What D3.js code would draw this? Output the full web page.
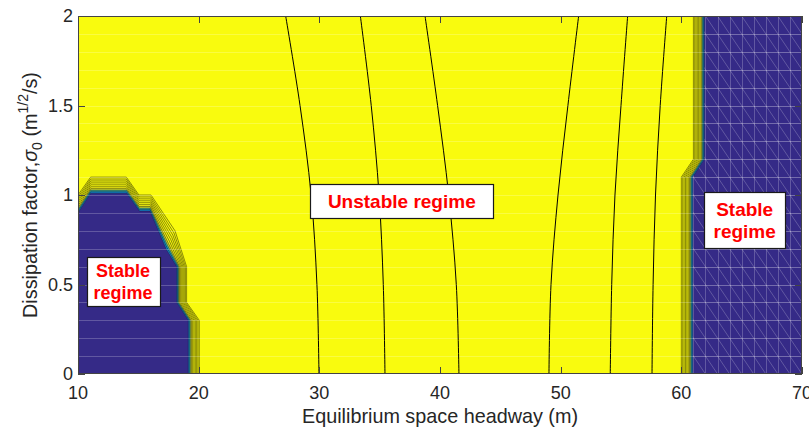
<!DOCTYPE html>
<html>
<head>
<meta charset="utf-8">
<script src="https://cdn.jsdelivr.net/npm/d3@7"></script>
<style>
  html, body { margin: 0; padding: 0; background: #fff; }
  svg { display: block; font-family: Arial, "Liberation Sans", Helvetica, sans-serif; }
</style>
</head>
<body>
<svg id="chart" width="809" height="428"></svg>
<script>
// ---------- data ----------
const xTicks = [10, 20, 30, 40, 50, 60, 70];
const yTicks = [0, 0.5, 1, 1.5, 2];
const yTickLabels = ["0", "0.5", "1", "1.5", "2"];

// sigma positions at which contour-line headways are read
const sigmaSamples = [0, 0.5, 1.0, 1.5, 2.0];
const contourA = [29.97, 29.80, 29.32, 28.40, 27.21];
const contourB = [35.44, 35.30, 34.95, 34.30, 33.40];
const contourC = [41.57, 41.35, 40.72, 39.80, 38.76];
const contourD = [49.03, 49.20, 49.78, 50.60, 51.49];
const contourE = [54.11, 54.23, 54.50, 55.00, 55.55];
const contourF = [57.57, 57.66, 57.86, 58.25, 58.79];

// left stable region: inner (fully stable) and outer (unstable) edges [headway, sigma]
const leftInner = [[10, 0.90], [11.05, 1.01], [14.03, 1.01], [15.1, 0.91], [15.97, 0.91], [17.29, 0.70], [18.18, 0.60], [18.18, 0.40], [19.14, 0.30], [19.14, 0]];
const leftOuter = [[10, 1.00], [11.05, 1.10], [14.0, 1.10], [15.05, 1.00], [16.05, 1.00], [18.04, 0.80], [19.0, 0.60], [19.0, 0.40], [20.05, 0.30], [20.05, 0]];
// right stable region edges (top to bottom)
const rightInner = [[61.9, 2.0], [61.9, 1.2], [60.95, 1.1], [60.95, 0]];
const rightOuter = [[61.0, 2.0], [61.0, 1.2], [60.0, 1.1], [60.0, 0]];

// contour levels across the transition band (0 = unstable edge, 1 = stable edge)
const bandLevels = [0, 0.12, 0.24, 0.36, 0.48, 0.6, 0.72, 0.82, 0.91];
const bandColors = ["#f9fb0e", "#f9fb0e", "#f9fb0e", "#f9fb0e", "#f9fb0e", "#f3ee14", "#c9d936", "#35b9c0", "#1288d0"];

const labels = [
  { lines: ["Stable", "regime"], box: [10.72, 16.74, 0.652, 0.378], size: 18 },
  { lines: ["Unstable regime"], box: [29.25, 44.42, 1.063, 0.871], size: 19 },
  { lines: ["Stable", "regime"], box: [61.9, 68.6, 1.015, 0.704], size: 19 }
];

// ---------- layout ----------
const svg = d3.select("#chart");
const M = { left: 78, top: 16, right: 802, bottom: 374 };
const x = d3.scaleLinear().domain([10, 70]).range([M.left, M.right]);
const y = d3.scaleLinear().domain([0, 2]).range([M.bottom, M.top]);
const BLUE = "#352a87", YELLOW = "#f9fb0e";

const defs = svg.append("defs");
defs.append("clipPath").attr("id", "plotClip")
  .append("rect").attr("x", M.left).attr("y", M.top)
  .attr("width", M.right - M.left).attr("height", M.bottom - M.top);

const plot = svg.append("g").attr("clip-path", "url(#plotClip)");
plot.append("rect").attr("x", M.left).attr("y", M.top)
  .attr("width", M.right - M.left).attr("height", M.bottom - M.top).attr("fill", YELLOW);

const poly = d3.line().x(d => x(d[0])).y(d => y(d[1]));
const mix = (a, b, t) => a.map((p, i) => [p[0] + (b[i][0] - p[0]) * t, p[1] + (b[i][1] - p[1]) * t]);

// left region bands
bandLevels.forEach((t, k) => {
  const edge = mix(leftOuter, leftInner, t);
  plot.append("path").attr("d", poly([...edge, [9, -0.1], [9, edge[0][1]]]) + "Z")
    .attr("fill", bandColors[k]).attr("stroke", "#000").attr("stroke-width", 0.45);
});
plot.append("path").attr("d", poly([...leftInner, [9, -0.1], [9, leftInner[0][1]]]) + "Z")
  .attr("fill", BLUE).attr("stroke", "#1a1a40").attr("stroke-width", 0.5);

// right region bands
bandLevels.forEach((t, k) => {
  const edge = mix(rightOuter, rightInner, t);
  plot.append("path").attr("d", poly([[edge[0][0], 2.1], ...edge, [edge[edge.length - 1][0], -0.1], [71, -0.1], [71, 2.1]]) + "Z")
    .attr("fill", bandColors[k]).attr("stroke", "#000").attr("stroke-width", 0.45);
});
const rightPoly = [[rightInner[0][0], 2.1], ...rightInner, [rightInner[rightInner.length - 1][0], -0.1], [71, -0.1], [71, 2.1]];
plot.append("path").attr("d", poly(rightPoly) + "Z")
  .attr("fill", BLUE).attr("stroke", "#1a1a40").attr("stroke-width", 0.5);

// faint mesh rows over the whole surface
const rows = d3.range(1, 20).map(i => i / 10);
plot.append("g").selectAll("line").data(rows).join("line")
  .attr("x1", M.left).attr("x2", M.right)
  .attr("y1", d => Math.round(y(d)) + 0.5).attr("y2", d => Math.round(y(d)) + 0.5)
  .attr("stroke", "#fff").attr("stroke-opacity", 0.22).attr("stroke-width", 1);

// wireframe mesh in the right stable region
defs.append("clipPath").attr("id", "rightClip").append("path").attr("d", poly(rightPoly) + "Z");
const mesh = plot.append("g").attr("clip-path", "url(#rightClip)")
  .attr("stroke", "#fff").attr("stroke-opacity", 0.22).attr("stroke-width", 1);
mesh.selectAll("line.v").data(d3.range(60, 71)).join("line").attr("class", "v")
  .attr("x1", d => Math.round(x(d)) + 0.5).attr("x2", d => Math.round(x(d)) + 0.5)
  .attr("y1", M.top).attr("y2", M.bottom);
mesh.selectAll("line.h").data(rows).join("line").attr("class", "h")
  .attr("x1", M.left).attr("x2", M.right)
  .attr("y1", d => Math.round(y(d)) + 0.5).attr("y2", d => Math.round(y(d)) + 0.5)
  .attr("stroke-opacity", 0.12);
mesh.selectAll("line.d").data(d3.range(40, 71)).join("line").attr("class", "d")
  .attr("x1", d => x(d)).attr("y1", y(2))
  .attr("x2", d => x(d + 20)).attr("y2", y(0));

// contour lines in the unstable regime
const contourLine = d3.line().x(d => x(d[0])).y(d => y(d[1])).curve(d3.curveCatmullRom);
[contourA, contourB, contourC, contourD, contourE, contourF].forEach(vals => {
  plot.append("path").attr("d", contourLine(vals.map((v, i) => [v, sigmaSamples[i]])))
    .attr("fill", "none").attr("stroke", "#000").attr("stroke-width", 1);
});

// ---------- axes ----------
const axisColor = "#262626";
const ax = svg.append("g");
ax.append("rect").attr("x", M.left + 0.5).attr("y", M.top + 0.5)
  .attr("width", M.right - M.left - 1).attr("height", M.bottom - M.top - 1)
  .attr("fill", "none").attr("stroke", "#444").attr("stroke-width", 1);
const TL = 7;
ax.selectAll("line.xt").data(xTicks).join("line").attr("class", "xt")
  .attr("x1", d => Math.round(x(d)) + 0.5).attr("x2", d => Math.round(x(d)) + 0.5)
  .attr("y1", M.bottom).attr("y2", M.bottom - TL).attr("stroke", "#444");
ax.selectAll("line.xt2").data(xTicks).join("line").attr("class", "xt2")
  .attr("x1", d => Math.round(x(d)) + 0.5).attr("x2", d => Math.round(x(d)) + 0.5)
  .attr("y1", M.top).attr("y2", M.top + TL).attr("stroke", "#444");
ax.selectAll("line.yt").data(yTicks).join("line").attr("class", "yt")
  .attr("y1", d => Math.round(y(d)) + 0.5).attr("y2", d => Math.round(y(d)) + 0.5)
  .attr("x1", M.left).attr("x2", M.left + TL).attr("stroke", "#444");
ax.selectAll("line.yt2").data(yTicks).join("line").attr("class", "yt2")
  .attr("y1", d => Math.round(y(d)) + 0.5).attr("y2", d => Math.round(y(d)) + 0.5)
  .attr("x1", M.right).attr("x2", M.right - TL).attr("stroke", "#444");

ax.selectAll("text.xl").data(xTicks).join("text").attr("class", "xl")
  .attr("x", d => x(d)).attr("y", 398.5).attr("text-anchor", "middle")
  .attr("font-size", 18).attr("fill", axisColor).text(d => d);
ax.selectAll("text.yl").data(yTicks).join("text").attr("class", "yl")
  .attr("x", 73).attr("y", d => y(d) + 6.4).attr("text-anchor", "end")
  .attr("font-size", 18).attr("fill", axisColor).text((d, i) => yTickLabels[i]);

svg.append("text").attr("x", x(40)).attr("y", 422.5).attr("text-anchor", "middle")
  .attr("font-size", 19.8).attr("fill", axisColor).text("Equilibrium space headway (m)");

const yt = svg.append("text").attr("transform", `translate(36.7,${(M.top + M.bottom) / 2}) rotate(-90)`)
  .attr("text-anchor", "middle").attr("font-size", 19.8).attr("fill", axisColor);
yt.append("tspan").text("Dissipation factor,");
yt.append("tspan").attr("font-style", "italic").text("σ");
yt.append("tspan").attr("font-size", 14).attr("dy", 5).text("0");
yt.append("tspan").attr("dy", -5).text(" (m");
yt.append("tspan").attr("font-size", 14).attr("dy", -9).text("1/2");
yt.append("tspan").attr("dy", 9).text("/s)");

// ---------- text boxes ----------
labels.forEach(l => {
  const [x0, x1, s0, s1] = l.box;
  const g = svg.append("g");
  g.append("rect").attr("x", Math.round(x(x0)) + 0.5).attr("y", Math.round(y(s0)) + 0.5)
    .attr("width", Math.round(x(x1) - x(x0))).attr("height", Math.round(y(s1) - y(s0)))
    .attr("fill", "#fff").attr("stroke", "#1a1a1a").attr("stroke-width", 1.2);
  const cx = (x(x0) + x(x1)) / 2, cy = (y(s0) + y(s1)) / 2;
  const lh = l.size * 1.2;
  l.lines.forEach((t, i) => {
    g.append("text").attr("x", cx)
      .attr("y", cy + (i - (l.lines.length - 1) / 2) * lh + l.size * 0.36)
      .attr("text-anchor", "middle").attr("font-weight", "bold")
      .attr("font-size", l.size).attr("fill", "#ff0000").text(t);
  });
});
</script>
</body>
</html>
